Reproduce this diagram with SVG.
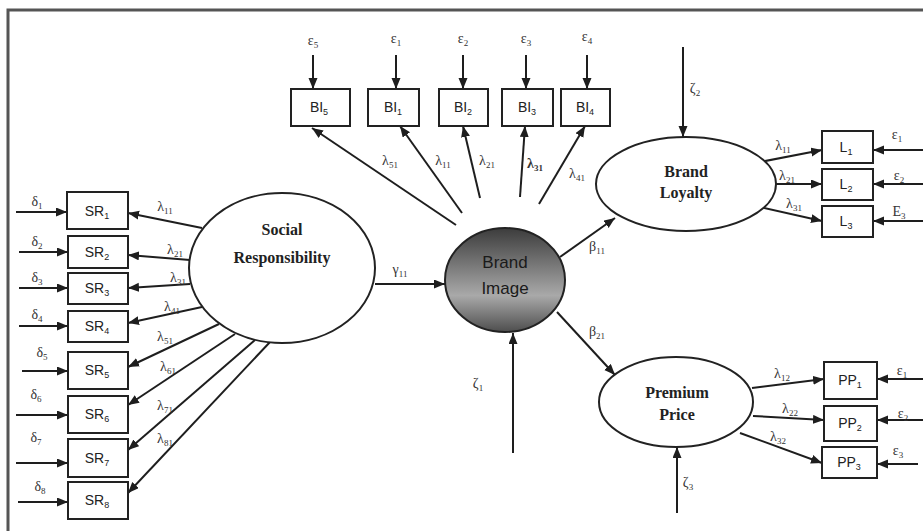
<svg xmlns="http://www.w3.org/2000/svg" width="923" height="531" viewBox="0 0 923 531">
<style>
.ln{stroke:#1e1e1e;stroke-width:2;fill:none;marker-end:url(#ah)}
.box{fill:#fff;stroke:#222;stroke-width:2}
.ell{fill:#fff;stroke:#222;stroke-width:2}
.bt{font-family:"Liberation Sans",Arial,sans-serif;font-size:14px;fill:#222;text-anchor:middle}
.gl{font-family:"Liberation Serif","DejaVu Serif",serif;font-size:14px;fill:#333;text-anchor:middle}
.sub{font-size:9px}
.lat{font-family:"Liberation Serif","DejaVu Serif",serif;font-weight:bold;font-size:16px;fill:#222;text-anchor:middle}
.bi{font-family:"Liberation Sans",Arial,sans-serif;font-size:17px;fill:#1a1a1a;text-anchor:middle}
</style>
<defs>
<marker id="ah" markerUnits="userSpaceOnUse" markerWidth="12" markerHeight="10" refX="11" refY="4.5" orient="auto">
<path d="M0,0 L11,4.5 L0,9 z" fill="#1e1e1e"/>
</marker>
<linearGradient id="gbi" x1="0" y1="0" x2="0" y2="1">
<stop offset="0" stop-color="#3c3c3c"/>
<stop offset="0.65" stop-color="#a9a9a9"/>
<stop offset="1" stop-color="#4e4e4e"/>
</linearGradient>
</defs>
<rect width="923" height="531" fill="#fff"/>
<path d="M8,531 L8,10 L923,10" fill="none" stroke="#555" stroke-width="3"/>

<g id="connectors">
<!-- delta arrows -->
<line class="ln" x1="16" y1="212" x2="67" y2="212"/>
<line class="ln" x1="19" y1="252" x2="68" y2="252"/>
<line class="ln" x1="19" y1="288" x2="68" y2="288"/>
<line class="ln" x1="19" y1="326" x2="68" y2="326"/>
<line class="ln" x1="22" y1="371" x2="68" y2="371"/>
<line class="ln" x1="16" y1="415" x2="68" y2="415"/>
<line class="ln" x1="16" y1="463" x2="68" y2="463"/>
<line class="ln" x1="18" y1="502" x2="68" y2="502"/>
<!-- SR lambdas -->
<line class="ln" x1="202" y1="228" x2="128" y2="213"/>
<line class="ln" x1="190" y1="260" x2="128" y2="255"/>
<line class="ln" x1="190" y1="284" x2="128" y2="288"/>
<line class="ln" x1="202" y1="307" x2="128" y2="323"/>
<line class="ln" x1="219" y1="324" x2="128" y2="367"/>
<line class="ln" x1="235" y1="334" x2="128" y2="405"/>
<line class="ln" x1="255" y1="340" x2="128" y2="450"/>
<line class="ln" x1="270" y1="342" x2="128" y2="493"/>
<!-- gamma -->
<line class="ln" x1="375" y1="284" x2="445" y2="284"/>
<!-- epsilon to BI -->
<line class="ln" x1="313" y1="55" x2="313" y2="89"/>
<line class="ln" x1="396" y1="55" x2="396" y2="89"/>
<line class="ln" x1="463" y1="55" x2="463" y2="89"/>
<line class="ln" x1="526" y1="55" x2="526" y2="89"/>
<line class="ln" x1="587" y1="55" x2="587" y2="89"/>
<!-- BI lambdas -->
<line class="ln" x1="456" y1="225" x2="312" y2="128"/>
<line class="ln" x1="462" y1="213" x2="400" y2="126"/>
<line class="ln" x1="480" y1="198" x2="463" y2="126"/>
<line class="ln" x1="520" y1="197" x2="525" y2="126"/>
<line class="ln" x1="539" y1="204" x2="585" y2="126"/>
<!-- betas -->
<line class="ln" x1="560" y1="257" x2="615" y2="218"/>
<line class="ln" x1="557" y1="312" x2="615" y2="375"/>
<!-- zetas -->
<line class="ln" x1="513" y1="453" x2="513" y2="333"/>
<line class="ln" x1="683" y1="47" x2="683" y2="137"/>
<line class="ln" x1="677" y1="513" x2="677" y2="447"/>
<!-- loyalty lambdas -->
<line class="ln" x1="760" y1="162" x2="822" y2="150"/>
<line class="ln" x1="768" y1="184" x2="822" y2="184"/>
<line class="ln" x1="760" y1="207" x2="822" y2="221"/>
<line class="ln" x1="923" y1="150" x2="873" y2="150"/>
<line class="ln" x1="923" y1="184" x2="873" y2="184"/>
<line class="ln" x1="923" y1="221" x2="873" y2="221"/>
<!-- premium lambdas -->
<line class="ln" x1="752" y1="388" x2="824" y2="379"/>
<line class="ln" x1="753" y1="416" x2="824" y2="420"/>
<line class="ln" x1="740" y1="433" x2="822" y2="463"/>
<line class="ln" x1="923" y1="379" x2="877" y2="379"/>
<line class="ln" x1="923" y1="420" x2="877" y2="420"/>
<line class="ln" x1="918" y1="464" x2="877" y2="464"/>
</g>

<g id="labels">
<text class="gl" x="37" y="206">δ<tspan class="sub" dy="3">1</tspan></text>
<text class="gl" x="37" y="246">δ<tspan class="sub" dy="3">2</tspan></text>
<text class="gl" x="37" y="282">δ<tspan class="sub" dy="3">3</tspan></text>
<text class="gl" x="37" y="319">δ<tspan class="sub" dy="3">4</tspan></text>
<text class="gl" x="42" y="357">δ<tspan class="sub" dy="3">5</tspan></text>
<text class="gl" x="36" y="399">δ<tspan class="sub" dy="3">6</tspan></text>
<text class="gl" x="36" y="442">δ<tspan class="sub" dy="3">7</tspan></text>
<text class="gl" x="40" y="491">δ<tspan class="sub" dy="3">8</tspan></text>

<text class="gl" x="165" y="211">λ<tspan class="sub" dy="3">11</tspan></text>
<text class="gl" x="175" y="254">λ<tspan class="sub" dy="3">21</tspan></text>
<text class="gl" x="178" y="282">λ<tspan class="sub" dy="3">31</tspan></text>
<text class="gl" x="172" y="311">λ<tspan class="sub" dy="3">41</tspan></text>
<text class="gl" x="165" y="341">λ<tspan class="sub" dy="3">51</tspan></text>
<text class="gl" x="168" y="371">λ<tspan class="sub" dy="3">61</tspan></text>
<text class="gl" x="165" y="410">λ<tspan class="sub" dy="3">71</tspan></text>
<text class="gl" x="165" y="443">λ<tspan class="sub" dy="3">81</tspan></text>

<text class="gl" x="400" y="274">γ<tspan class="sub" dy="3">11</tspan></text>

<text class="gl" x="313" y="45">ε<tspan class="sub" dy="3">5</tspan></text>
<text class="gl" x="396" y="43">ε<tspan class="sub" dy="3">1</tspan></text>
<text class="gl" x="463" y="43">ε<tspan class="sub" dy="3">2</tspan></text>
<text class="gl" x="526" y="43">ε<tspan class="sub" dy="3">3</tspan></text>
<text class="gl" x="587" y="41">ε<tspan class="sub" dy="3">4</tspan></text>

<text class="gl" x="390" y="165">λ<tspan class="sub" dy="3">51</tspan></text>
<text class="gl" x="443" y="165">λ<tspan class="sub" dy="3">11</tspan></text>
<text class="gl" x="487" y="165">λ<tspan class="sub" dy="3">21</tspan></text>
<text class="gl" x="535" y="168" font-weight="bold">λ<tspan class="sub" dy="3">31</tspan></text>
<text class="gl" x="577" y="178">λ<tspan class="sub" dy="3">41</tspan></text>

<text class="gl" x="597" y="251">β<tspan class="sub" dy="3">11</tspan></text>
<text class="gl" x="597" y="336">β<tspan class="sub" dy="3">21</tspan></text>

<text class="gl" x="478" y="388">ζ<tspan class="sub" dy="3">1</tspan></text>
<text class="gl" x="695" y="93">ζ<tspan class="sub" dy="3">2</tspan></text>
<text class="gl" x="688" y="487">ζ<tspan class="sub" dy="3">3</tspan></text>

<text class="gl" x="783" y="150">λ<tspan class="sub" dy="3">11</tspan></text>
<text class="gl" x="787" y="180">λ<tspan class="sub" dy="3">21</tspan></text>
<text class="gl" x="794" y="208">λ<tspan class="sub" dy="3">31</tspan></text>
<text class="gl" x="897" y="139">ε<tspan class="sub" dy="3">1</tspan></text>
<text class="gl" x="899" y="180">ε<tspan class="sub" dy="3">2</tspan></text>
<text class="gl" x="899" y="216">E<tspan class="sub" dy="3">3</tspan></text>

<text class="gl" x="782" y="378">λ<tspan class="sub" dy="3">12</tspan></text>
<text class="gl" x="790" y="413">λ<tspan class="sub" dy="3">22</tspan></text>
<text class="gl" x="778" y="441">λ<tspan class="sub" dy="3">32</tspan></text>
<text class="gl" x="902" y="375">ε<tspan class="sub" dy="3">1</tspan></text>
<text class="gl" x="903" y="418">ε<tspan class="sub" dy="3">2</tspan></text>
<text class="gl" x="898" y="455">ε<tspan class="sub" dy="3">3</tspan></text>
</g>

<g id="social-responsibility">
<ellipse class="ell" cx="282" cy="268" rx="93" ry="75"/>
<text class="lat" x="282" y="235">Social</text>
<text class="lat" x="282" y="263">Responsibility</text>
</g>
<g id="brand-image">
<ellipse cx="505" cy="280" rx="60" ry="52" fill="url(#gbi)" stroke="#222" stroke-width="2"/>
<text class="bi" x="505" y="268">Brand</text>
<text class="bi" x="505" y="294">Image</text>
</g>
<g id="brand-loyalty">
<ellipse class="ell" cx="686" cy="184" rx="90" ry="47"/>
<text class="lat" x="686" y="177">Brand</text>
<text class="lat" x="686" y="198">Loyalty</text>
</g>
<g id="premium-price">
<ellipse class="ell" cx="676" cy="402" rx="77" ry="45"/>
<text class="lat" x="677" y="398">Premium</text>
<text class="lat" x="677" y="420">Price</text>
</g>

<g id="SR1"><rect class="box" x="67" y="192" width="61" height="37"/><text class="bt" x="97" y="216">SR<tspan class="sub" dy="3">1</tspan></text></g>
<g id="SR2"><rect class="box" x="68" y="236" width="60" height="32"/><text class="bt" x="97" y="257">SR<tspan class="sub" dy="3">2</tspan></text></g>
<g id="SR3"><rect class="box" x="68" y="273" width="60" height="31"/><text class="bt" x="97" y="293">SR<tspan class="sub" dy="3">3</tspan></text></g>
<g id="SR4"><rect class="box" x="68" y="311" width="60" height="31"/><text class="bt" x="97" y="331">SR<tspan class="sub" dy="3">4</tspan></text></g>
<g id="SR5"><rect class="box" x="68" y="352" width="60" height="37"/><text class="bt" x="97" y="375">SR<tspan class="sub" dy="3">5</tspan></text></g>
<g id="SR6"><rect class="box" x="68" y="396" width="60" height="37"/><text class="bt" x="97" y="419">SR<tspan class="sub" dy="3">6</tspan></text></g>
<g id="SR7"><rect class="box" x="68" y="439" width="60" height="38"/><text class="bt" x="97" y="463">SR<tspan class="sub" dy="3">7</tspan></text></g>
<g id="SR8"><rect class="box" x="68" y="482" width="60" height="37"/><text class="bt" x="97" y="505">SR<tspan class="sub" dy="3">8</tspan></text></g>

<g id="BI5"><rect class="box" x="291" y="89" width="59" height="37"/><text class="bt" x="319" y="112">BI<tspan class="sub" dy="3">5</tspan></text></g>
<g id="BI1"><rect class="box" x="368" y="89" width="51" height="37"/><text class="bt" x="393" y="112">BI<tspan class="sub" dy="3">1</tspan></text></g>
<g id="BI2"><rect class="box" x="439" y="89" width="49" height="37"/><text class="bt" x="463" y="112">BI<tspan class="sub" dy="3">2</tspan></text></g>
<g id="BI3"><rect class="box" x="502" y="89" width="51" height="37"/><text class="bt" x="527" y="112">BI<tspan class="sub" dy="3">3</tspan></text></g>
<g id="BI4"><rect class="box" x="561" y="89" width="49" height="37"/><text class="bt" x="585" y="112">BI<tspan class="sub" dy="3">4</tspan></text></g>

<g id="L1"><rect class="box" x="822" y="131" width="51" height="32"/><text class="bt" x="846" y="152">L<tspan class="sub" dy="3">1</tspan></text></g>
<g id="L2"><rect class="box" x="822" y="169" width="51" height="31"/><text class="bt" x="846" y="189">L<tspan class="sub" dy="3">2</tspan></text></g>
<g id="L3"><rect class="box" x="822" y="206" width="51" height="31"/><text class="bt" x="846" y="226">L<tspan class="sub" dy="3">3</tspan></text></g>

<g id="PP1"><rect class="box" x="824" y="362" width="53" height="37"/><text class="bt" x="850" y="385">PP<tspan class="sub" dy="3">1</tspan></text></g>
<g id="PP2"><rect class="box" x="824" y="406" width="53" height="35"/><text class="bt" x="850" y="428">PP<tspan class="sub" dy="3">2</tspan></text></g>
<g id="PP3"><rect class="box" x="822" y="447" width="55" height="31"/><text class="bt" x="849" y="467">PP<tspan class="sub" dy="3">3</tspan></text></g>
</svg>
